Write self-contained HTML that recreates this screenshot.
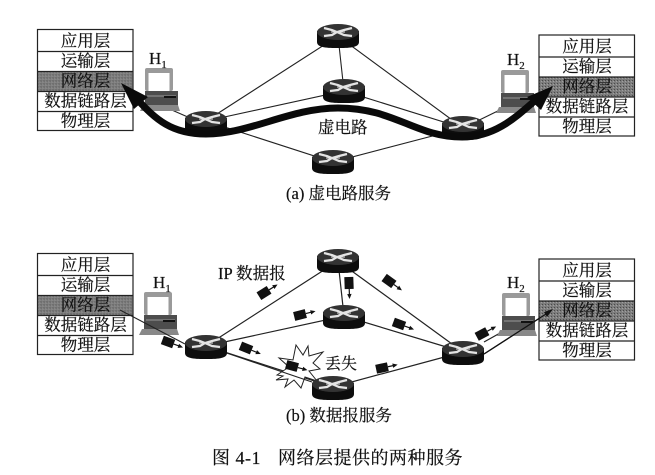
<!DOCTYPE html>
<html><head><meta charset="utf-8">
<style>
html,body{margin:0;padding:0;background:#fff;width:655px;height:475px;overflow:hidden}
svg{display:block}
text{font-family:"Liberation Serif","Noto Serif CJK SC",serif;fill:#111;stroke:#111;stroke-width:.2px}
.l{font-size:16.5px;text-anchor:middle}
.c{font-size:16.5px}
.h{font-size:17px}
</style></head><body>
<svg width="655" height="475" viewBox="0 0 655 475" xmlns="http://www.w3.org/2000/svg">
<defs>
<pattern id="g" width="3" height="3" patternUnits="userSpaceOnUse"><rect width="3" height="3" fill="#7d7d7d"/><rect width="1" height="1" fill="#4a4a4a"/><rect x="2" y="1" width="1" height="1" fill="#a0a0a0"/></pattern>
<g id="r">
<path d="M-21-5V6C-21 12-10 12-0 12S21 12 21 6V-5Z" fill="#0d0d0d"/>
<ellipse cx="0" cy="-4" rx="21" ry="8" fill="#333"/>
<path d="M-14-8-6-6-1-4 6-1 14 0M14-8 6-6-1-4-6-1-14 0" stroke="#e4e4e4" stroke-width="2.2" fill="none"/>
<path d="M-7-4H7" stroke="#e4e4e4" stroke-width="1"/>
</g>
<g id="p"><rect x="-6" y="-4.500" width="12" height="9" fill="#111"/><path d="M6 0H12" stroke="#111" stroke-width="1.200"/><path d="M16 0 11-2.200V2.200Z" fill="#111"/></g>
<g id="s">
<rect x="0" y="0" width="95.500" height="101" fill="#fff" stroke="#222" stroke-width="1.200"/>
<rect x="0.500" y="42" width="94.500" height="20" fill="url(#g)"/>
<path d="M0 22H95.500M0 42H95.500M0 62H95.500M0 82H95.500" stroke="#222" stroke-width="1.200"/>
<text class="l" x="48" y="17">应用层</text>
<text class="l" x="48" y="37">运输层</text>
<text class="l" x="48" y="57">网络层</text>
<text class="l" x="48" y="77">数据链路层</text>
<text class="l" x="48" y="97">物理层</text>
</g>
<g id="pc">
<rect x="5" y="0" width="28" height="23" rx="2" fill="#9a9a9a"/>
<rect x="8.500" y="5" width="21" height="18" fill="#fff"/>
<rect x="5" y="23" width="33" height="14" fill="#4d4d4d"/>
<path d="M7 28H36" stroke="#999"/><rect x="24" y="28" width="12" height="2" fill="#111"/>
<path d="M3 37H38L40 43H0Z" fill="#888"/>
</g>
</defs>

<!-- (a) -->
<path d="M206 121 338 36 463 128M206 121 344 91 463 128M206 121 333 162 463 128M338 36 344 91M165 107 206 125M463 128 510 105" stroke="#222" stroke-width="1.100" fill="none"/>
<use href="#pc" x="140" y="68"/>
<use href="#pc" x="496" y="70"/>
<use href="#s" x="37.500" y="29.500"/>
<use href="#s" x="539" y="35"/>
<use href="#r" x="206" y="123"/>
<use href="#r" x="338" y="36"/>
<use href="#r" x="344" y="91"/>
<use href="#r" x="463" y="128"/>
<use href="#r" x="333" y="162"/>
<path d="M136 98C156 120 172 134 206 134C250 134 290 108 338 108C395 108 415 137 462 137C495 137 515 118 538 98" stroke="#0a0a0a" stroke-width="7" fill="none"/>
<path d="M121 83 148 97 134 109Z" fill="#0a0a0a"/>
<path d="M553 86 541 110 527 97Z" fill="#0a0a0a"/>
<text class="h" x="149" y="64">H<tspan font-size="11" dy="4">1</tspan></text>
<text class="h" x="507" y="65">H<tspan font-size="11" dy="4">2</tspan></text>
<text class="c" x="318" y="133">虚电路</text>
<text class="c" x="286" y="199">(a) 虚电路服务</text>

<!-- (b) -->
<path d="M206 346 338 261 463 352M206 346 344 316 463 352M206 346 333 387 463 352M338 261 344 316M484 342 520 322M484 354 546 314" stroke="#222" stroke-width="1.200" fill="none"/>
<use href="#pc" x="139" y="292"/>
<use href="#pc" x="497" y="293"/>
<use href="#s" x="37.500" y="253.500"/>
<use href="#s" x="539" y="259"/>
<path d="M120 310 185 344" stroke="#222" stroke-width="1.100"/>
<path d="M484 354 546 314" stroke="#111" stroke-width="1.300"/>
<path d="M553 309 544 312 547 317Z" fill="#111"/>
<path d="M277 375 289 367 279 358 293 360 296 345 303 355 308 346 309 356 323 352 313 363 320 369 309 371 317 381 305 377 301 388 294 380 285 387 288 379 276 380 283 376Z" fill="#fff" stroke="#222" stroke-width="1"/>
<path d="M206 346 312 382" stroke="#222" stroke-width="1.100"/>
<use href="#r" x="206" y="347"/>
<use href="#r" x="338" y="261"/>
<use href="#r" x="344" y="317"/>
<use href="#r" x="463" y="353"/>
<use href="#r" x="333" y="388"/>
<use href="#p" transform="translate(264 293) rotate(-32)"/>
<use href="#p" transform="translate(300 315) rotate(-14)"/>
<use href="#p" transform="translate(349 283) rotate(88)"/>
<use href="#p" transform="translate(389 281) rotate(36)"/>
<use href="#p" transform="translate(399 324) rotate(20)"/>
<use href="#p" transform="translate(382 368) rotate(-12)"/>
<use href="#p" transform="translate(482 334) rotate(-28)"/>
<use href="#p" transform="translate(168 342) rotate(20)"/>
<use href="#p" transform="translate(246 348) rotate(22)"/>
<use href="#p" transform="translate(292 366) rotate(15)"/>
<text class="h" x="153" y="288">H<tspan font-size="11" dy="4">1</tspan></text>
<text class="h" x="507" y="288">H<tspan font-size="11" dy="4">2</tspan></text>
<text class="c" x="218" y="279">IP 数据报</text>
<text x="325" y="369" style="font-size:16px">丢失</text>
<text class="c" x="286" y="421">(b) 数据报服务</text>
<text x="212" y="464" style="font-size:18px;letter-spacing:.5px">图 4-1<tspan x="278">网络层提供的两种服务</tspan></text>
</svg>
</body></html>
